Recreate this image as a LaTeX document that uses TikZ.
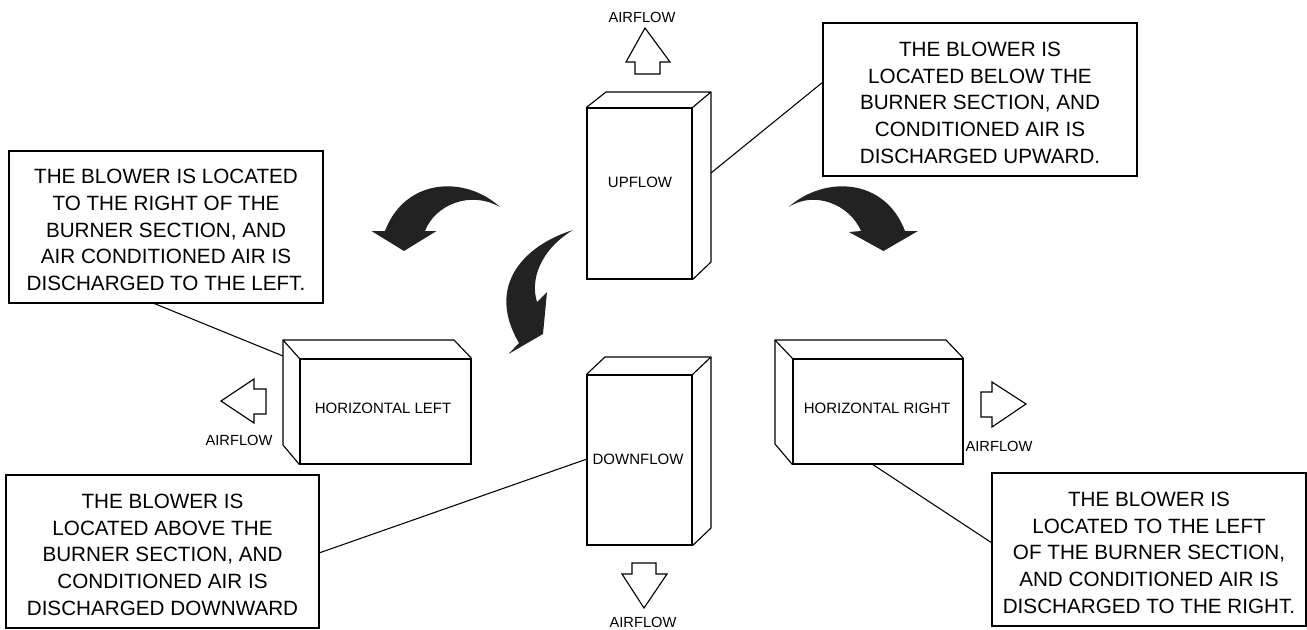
\documentclass[tikz,border=0pt]{standalone}
\usepackage{fontspec}
\setmainfont{Liberation Sans}
\definecolor{curveblack}{HTML}{222222}
\newcommand{\notestrut}{\rule{0pt}{15.6pt}}
\tikzset{
  notebox/.style={draw,line width=1.5pt,inner sep=0pt,align=center,font=\fontsize{15.5}{20}\selectfont},
  unitface/.style={draw,line width=0.85pt,inner sep=0pt,font=\fontsize{11.25}{13}\selectfont},
  unitedge/.style={line width=0.85pt,line join=round},
  leader/.style={line width=0.8pt},
  flowarrow/.style={line width=0.85pt,line join=miter},
  flowlabel/.style={inner sep=0pt,font=\fontsize{11}{13}\selectfont},
  swoosh/.style={fill=curveblack,draw=none}
}
\begin{document}
\begin{tikzpicture}[x=0.75pt,y=-0.75pt]
\useasboundingbox (0,0) rectangle (1307,629);
% notes
\node[notebox,minimum width=314*0.75pt,minimum height=152*0.75pt] (noteL) at (166,227) {\notestrut THE BLOWER IS LOCATED\\TO THE RIGHT OF THE\\BURNER SECTION, AND\\AIR CONDITIONED AIR IS\\DISCHARGED TO THE LEFT.};
\node[notebox,minimum width=313*0.75pt,minimum height=153*0.75pt] (noteD) at (162.5,551.5) {\notestrut THE BLOWER IS\\LOCATED ABOVE THE\\BURNER SECTION, AND\\CONDITIONED AIR IS\\DISCHARGED DOWNWARD};
\node[notebox,minimum width=314*0.75pt,minimum height=153*0.75pt] (noteR) at (1149,549.5) {\notestrut THE BLOWER IS\\LOCATED TO THE LEFT\\OF THE BURNER SECTION,\\AND CONDITIONED AIR IS\\DISCHARGED TO THE RIGHT.};
\node[notebox,minimum width=314*0.75pt,minimum height=153*0.75pt] (noteU) at (980,99.5) {\notestrut THE BLOWER IS\\LOCATED BELOW THE\\BURNER SECTION, AND\\CONDITIONED AIR IS\\DISCHARGED UPWARD.};
% upflow unit
\node[unitface,minimum width=105*0.75pt,minimum height=171*0.75pt] (up) at (639.5,193.5) {};
\node[inner sep=0pt,font=\fontsize{11.25}{13}\selectfont] (uplabel) at (640,182) {UPFLOW};
\draw[unitedge] (up.north west) -- (606,92) -- (711,92) -- (up.north east);
\draw[unitedge] (711,92) -- (711,262) -- (up.south east);
% downflow unit
\node[unitface,minimum width=105*0.75pt,minimum height=170*0.75pt] (down) at (639.5,460) {};
\node[inner sep=0pt,font=\fontsize{11.25}{13}\selectfont] (downlabel) at (638,459) {DOWNFLOW};
\draw[unitedge] (down.north west) -- (605,357) -- (711,357) -- (down.north east);
\draw[unitedge] (711,357) -- (711,528) -- (down.south east);
% horizontal left unit
\node[unitface,minimum width=171*0.75pt,minimum height=105*0.75pt] (hl) at (385.5,411.5) {};
\node[inner sep=0pt,font=\fontsize{11.25}{13}\selectfont] (hllabel) at (383,408) {HORIZONTAL LEFT};
\coordinate (hlback) at (283,340);
\draw[unitedge] (hl.north west) -- (hlback) -- (454,340) -- (hl.north east);
\draw[unitedge] (hlback) -- (283,445) -- (hl.south west);
% horizontal right unit
\node[unitface,minimum width=170*0.75pt,minimum height=105*0.75pt] (hr) at (878,411.5) {};
\node[inner sep=0pt,font=\fontsize{11.25}{13}\selectfont] (hrlabel) at (877,408) {HORIZONTAL RIGHT};
\coordinate (hrback) at (775,340);
\draw[unitedge] (hr.north west) -- (hrback) -- (946,340) -- (hr.north east);
\draw[unitedge] (hrback) -- (775,444) -- (hr.south west);
% leaders
\coordinate (upside) at (711,173);
\coordinate (noteUa) at (823,82);
\draw[leader] (upside) -- (noteUa);
\coordinate (noteLa) at (153,303);
\coordinate (hlside) at (283,356);
\draw[leader] (noteLa) -- (hlside);
\coordinate (downa) at (587,459);
\coordinate (noteDa) at (319,553);
\draw[leader] (downa) -- (noteDa);
\coordinate (hra) at (872,464);
\coordinate (noteRa) at (992,543);
\draw[leader] (hra) -- (noteRa);
% airflow arrows
\draw[flowarrow] (645,28) -- (670,62) -- (660,62) -- (660,74) -- (635,74) -- (635,62) -- (626,62) -- cycle;
\draw[flowarrow] (644,608) -- (667,574) -- (656,574) -- (656,563) -- (632,563) -- (632,574) -- (622,574) -- cycle;
\draw[flowarrow] (221,401) -- (254,379) -- (254,389) -- (266,389) -- (266,414) -- (254,414) -- (254,423) -- cycle;
\draw[flowarrow] (1026,404) -- (992,382) -- (992,392) -- (981,392) -- (981,417) -- (992,417) -- (992,427) -- cycle;
\node[flowlabel] (afU) at (642,17) {AIRFLOW};
\node[flowlabel] (afD) at (643,622) {AIRFLOW};
\node[flowlabel] (afL) at (239,440) {AIRFLOW};
\node[flowlabel] (afR) at (999,446) {AIRFLOW};
% curved arrows
\path[swoosh] (500,207) .. controls (465,175) and (405,178) .. (385,231) -- (371.5,231) -- (404,251) -- (436.5,231) -- (425,231) .. controls (435,205) and (470,190) .. cycle;
\path[swoosh] (788.6,207) .. controls (825,175) and (885,178) .. (905,231) -- (918,231) -- (883.5,251) -- (849,232) -- (861,231) .. controls (850,205) and (815,190) .. cycle;
\path[swoosh] (573,230) .. controls (525,245) and (485,285) .. (519,343) -- (508.5,354) -- (543,334) -- (547,292) -- (537,302) .. controls (530,280) and (540,250) .. cycle;
\end{tikzpicture}
\end{document}
